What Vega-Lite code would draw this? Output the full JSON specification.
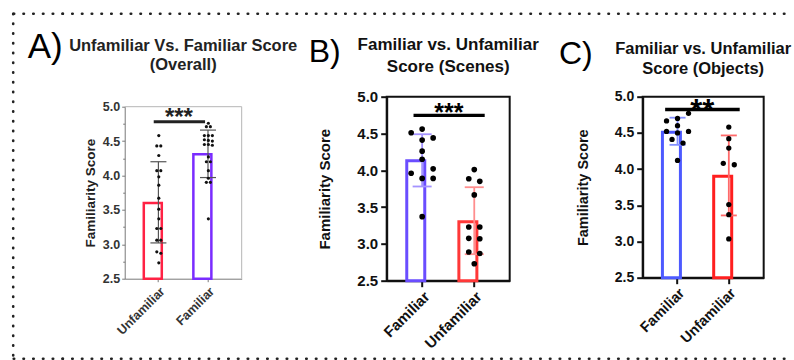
{
  "$schema": "https://vega.github.io/schema/vega-lite/v6.json",
  "padding": {"left": 11.7, "top": 11.7, "right": 0, "bottom": 0},
  "config": {
    "font": "Liberation Sans",
    "view": {"stroke": null},
    "title": {"fontWeight": "bold", "anchor": "middle", "frame": "group", "color": "#111", "font": "Liberation Sans"},
    "axis": {"labelFont": "Liberation Sans", "titleFont": "Liberation Sans", "grid": false}
  },
  "resolve": {"scale": {"x": "independent", "y": "independent", "stroke": "independent", "color": "independent", "xOffset": "independent"}},
  "datasets": {
    "pts": [
      {"p":"A","g":"Unfamiliar","s":4.58,"j":0},
      {"p":"A","g":"Unfamiliar","s":4.43,"j":-1},
      {"p":"A","g":"Unfamiliar","s":4.43,"j":1},
      {"p":"A","g":"Unfamiliar","s":4.29,"j":0},
      {"p":"A","g":"Unfamiliar","s":4.07,"j":-1},
      {"p":"A","g":"Unfamiliar","s":4.07,"j":1},
      {"p":"A","g":"Unfamiliar","s":3.98,"j":0},
      {"p":"A","g":"Unfamiliar","s":3.86,"j":0},
      {"p":"A","g":"Unfamiliar","s":3.67,"j":0},
      {"p":"A","g":"Unfamiliar","s":3.51,"j":0},
      {"p":"A","g":"Unfamiliar","s":3.37,"j":0},
      {"p":"A","g":"Unfamiliar","s":3.23,"j":-1},
      {"p":"A","g":"Unfamiliar","s":3.23,"j":1},
      {"p":"A","g":"Unfamiliar","s":3.06,"j":-1},
      {"p":"A","g":"Unfamiliar","s":3.06,"j":1},
      {"p":"A","g":"Unfamiliar","s":2.89,"j":-1},
      {"p":"A","g":"Unfamiliar","s":2.87,"j":1},
      {"p":"A","g":"Unfamiliar","s":2.73,"j":0},
      {"p":"A","g":"Familiar","s":4.76,"j":0},
      {"p":"A","g":"Familiar","s":4.71,"j":-1},
      {"p":"A","g":"Familiar","s":4.71,"j":1},
      {"p":"A","g":"Familiar","s":4.58,"j":-2},
      {"p":"A","g":"Familiar","s":4.58,"j":0},
      {"p":"A","g":"Familiar","s":4.58,"j":2},
      {"p":"A","g":"Familiar","s":4.52,"j":-2},
      {"p":"A","g":"Familiar","s":4.51,"j":0},
      {"p":"A","g":"Familiar","s":4.5,"j":2},
      {"p":"A","g":"Familiar","s":4.45,"j":-2},
      {"p":"A","g":"Familiar","s":4.45,"j":0},
      {"p":"A","g":"Familiar","s":4.44,"j":2},
      {"p":"A","g":"Familiar","s":4.27,"j":0},
      {"p":"A","g":"Familiar","s":4.2,"j":-1},
      {"p":"A","g":"Familiar","s":4.2,"j":1},
      {"p":"A","g":"Familiar","s":4.07,"j":0},
      {"p":"A","g":"Familiar","s":3.96,"j":0},
      {"p":"A","g":"Familiar","s":3.9,"j":-1},
      {"p":"A","g":"Familiar","s":3.9,"j":1},
      {"p":"A","g":"Familiar","s":3.37,"j":0},
      {"p":"B","g":"Familiar","s":4.56,"j":0},
      {"p":"B","g":"Familiar","s":4.51,"j":-2},
      {"p":"B","g":"Familiar","s":4.44,"j":2},
      {"p":"B","g":"Familiar","s":4.41,"j":0},
      {"p":"B","g":"Familiar","s":4.26,"j":0},
      {"p":"B","g":"Familiar","s":4.15,"j":0},
      {"p":"B","g":"Familiar","s":4.02,"j":2},
      {"p":"B","g":"Familiar","s":3.96,"j":-2},
      {"p":"B","g":"Familiar","s":3.89,"j":0},
      {"p":"B","g":"Familiar","s":3.89,"j":2},
      {"p":"B","g":"Familiar","s":3.37,"j":0},
      {"p":"B","g":"Unfamiliar","s":4.01,"j":0},
      {"p":"B","g":"Unfamiliar","s":3.885,"j":-1},
      {"p":"B","g":"Unfamiliar","s":3.85,"j":1},
      {"p":"B","g":"Unfamiliar","s":3.665,"j":0},
      {"p":"B","g":"Unfamiliar","s":3.23,"j":-1},
      {"p":"B","g":"Unfamiliar","s":3.23,"j":1},
      {"p":"B","g":"Unfamiliar","s":3.075,"j":-1},
      {"p":"B","g":"Unfamiliar","s":3.07,"j":1},
      {"p":"B","g":"Unfamiliar","s":2.89,"j":-1},
      {"p":"B","g":"Unfamiliar","s":2.87,"j":1},
      {"p":"B","g":"Unfamiliar","s":2.73,"j":0},
      {"p":"C","g":"Familiar","s":4.77,"j":2},
      {"p":"C","g":"Familiar","s":4.7,"j":0},
      {"p":"C","g":"Familiar","s":4.665,"j":-2},
      {"p":"C","g":"Familiar","s":4.6,"j":0},
      {"p":"C","g":"Familiar","s":4.52,"j":-2},
      {"p":"C","g":"Familiar","s":4.5,"j":0},
      {"p":"C","g":"Familiar","s":4.52,"j":2},
      {"p":"C","g":"Familiar","s":4.41,"j":-1},
      {"p":"C","g":"Familiar","s":4.36,"j":1},
      {"p":"C","g":"Familiar","s":4.12,"j":0},
      {"p":"C","g":"Unfamiliar","s":4.58,"j":0},
      {"p":"C","g":"Unfamiliar","s":4.42,"j":0},
      {"p":"C","g":"Unfamiliar","s":4.29,"j":0},
      {"p":"C","g":"Unfamiliar","s":4.08,"j":-1},
      {"p":"C","g":"Unfamiliar","s":4.06,"j":1},
      {"p":"C","g":"Unfamiliar","s":3.51,"j":0},
      {"p":"C","g":"Unfamiliar","s":3.37,"j":0},
      {"p":"C","g":"Unfamiliar","s":3.035,"j":0}
    ],
    "bars": [
      {"p":"A","g":"Unfamiliar","mean":3.6,"lo":3.02,"hi":4.2},
      {"p":"A","g":"Familiar","mean":4.31,"lo":3.97,"hi":4.66},
      {"p":"B","g":"Familiar","mean":4.13,"lo":3.78,"hi":4.49},
      {"p":"B","g":"Unfamiliar","mean":3.3,"lo":2.86,"hi":3.77},
      {"p":"C","g":"Familiar","mean":4.51,"lo":4.335,"hi":4.71},
      {"p":"C","g":"Unfamiliar","mean":3.9,"lo":3.36,"hi":4.465}
    ],
    "sig": [
      {"p":"A","a":"Unfamiliar","b":"Familiar","ly":4.78,"ty":4.73,"label":"***"},
      {"p":"B","a":"Familiar","b":"Unfamiliar","ly":4.746,"ty":4.674,"label":"***"},
      {"p":"C","a":"Familiar","b":"Unfamiliar","ly":4.823,"ty":4.659,"label":"**"}
    ],
    "one": [{"k": 1}]
  },
  "columns": 11,
  "spacing": 0,
  "bounds": "flush",
  "align": "each",
  "concat": [
    {"width": 1, "height": 83, "data": {"name": "one"},
     "mark": {"type": "rule", "strokeDash": [0.5, 9.25], "strokeDashOffset": 0, "strokeCap": "round", "strokeWidth": 2.6, "color": "#222"},
     "encoding": {"y": {"datum": 1, "type": "quantitative", "scale": {"domain": [0, 1]}, "axis": null}, "y2": {"datum": 0}}},
    {"width": 49, "height": 83, "data": {"name": "one"},
     "mark": {"type": "rule", "strokeDash": [0.5, 9.25], "strokeDashOffset": 0, "strokeCap": "round", "strokeWidth": 2.6, "color": "#222"},
     "encoding": {"x": {"datum": 0, "type": "quantitative", "scale": {"domain": [0, 1]}, "axis": null}, "x2": {"datum": 1}, "y": {"datum": 1, "type": "quantitative", "scale": {"domain": [0, 1]}, "axis": null}}},
    {"width": 62, "height": 83, "data": {"name": "one"},
     "mark": {"type": "rule", "strokeDash": [0.5, 9.25], "strokeDashOffset": 0.25, "strokeCap": "round", "strokeWidth": 2.6, "color": "#222"},
     "encoding": {"x": {"datum": 0, "type": "quantitative", "scale": {"domain": [0, 1]}, "axis": null}, "x2": {"datum": 1}, "y": {"datum": 1, "type": "quantitative", "scale": {"domain": [0, 1]}, "axis": null}}},
    {"width": 117, "height": 83, "data": {"name": "one"},
     "mark": {"type": "rule", "strokeDash": [0.5, 9.25], "strokeDashOffset": 3.75, "strokeCap": "round", "strokeWidth": 2.6, "color": "#222"},
     "encoding": {"x": {"datum": 0, "type": "quantitative", "scale": {"domain": [0, 1]}, "axis": null}, "x2": {"datum": 1}, "y": {"datum": 1, "type": "quantitative", "scale": {"domain": [0, 1]}, "axis": null}}},
    {"width": 99, "height": 83, "data": {"name": "one"},
     "mark": {"type": "rule", "strokeDash": [0.5, 9.25], "strokeDashOffset": 3.75, "strokeCap": "round", "strokeWidth": 2.6, "color": "#222"},
     "encoding": {"x": {"datum": 0, "type": "quantitative", "scale": {"domain": [0, 1]}, "axis": null}, "x2": {"datum": 1}, "y": {"datum": 1, "type": "quantitative", "scale": {"domain": [0, 1]}, "axis": null}}},
    {"width": 46, "height": 83, "data": {"name": "one"},
     "mark": {"type": "rule", "strokeDash": [0.5, 9.25], "strokeDashOffset": 5.25, "strokeCap": "round", "strokeWidth": 2.6, "color": "#222"},
     "encoding": {"x": {"datum": 0, "type": "quantitative", "scale": {"domain": [0, 1]}, "axis": null}, "x2": {"datum": 1}, "y": {"datum": 1, "type": "quantitative", "scale": {"domain": [0, 1]}, "axis": null}}},
    {"width": 123, "height": 83, "data": {"name": "one"},
     "mark": {"type": "rule", "strokeDash": [0.5, 9.25], "strokeDashOffset": 2.5, "strokeCap": "round", "strokeWidth": 2.6, "color": "#222"},
     "encoding": {"x": {"datum": 0, "type": "quantitative", "scale": {"domain": [0, 1]}, "axis": null}, "x2": {"datum": 1}, "y": {"datum": 1, "type": "quantitative", "scale": {"domain": [0, 1]}, "axis": null}}},
    {"width": 83, "height": 83, "data": {"name": "one"},
     "mark": {"type": "rule", "strokeDash": [0.5, 9.25], "strokeDashOffset": 8.5, "strokeCap": "round", "strokeWidth": 2.6, "color": "#222"},
     "encoding": {"x": {"datum": 0, "type": "quantitative", "scale": {"domain": [0, 1]}, "axis": null}, "x2": {"datum": 1}, "y": {"datum": 1, "type": "quantitative", "scale": {"domain": [0, 1]}, "axis": null}}},
    {"width": 50, "height": 83, "data": {"name": "one"},
     "mark": {"type": "rule", "strokeDash": [0.5, 9.25], "strokeDashOffset": 3.75, "strokeCap": "round", "strokeWidth": 2.6, "color": "#222"},
     "encoding": {"x": {"datum": 0, "type": "quantitative", "scale": {"domain": [0, 1]}, "axis": null}, "x2": {"datum": 1}, "y": {"datum": 1, "type": "quantitative", "scale": {"domain": [0, 1]}, "axis": null}}},
    {"width": 121, "height": 83, "data": {"name": "one"},
     "mark": {"type": "rule", "strokeDash": [0.5, 9.25], "strokeDashOffset": 5.75, "strokeCap": "round", "strokeWidth": 2.6, "color": "#222"},
     "encoding": {"x": {"datum": 0, "type": "quantitative", "scale": {"domain": [0, 1]}, "axis": null}, "x2": {"datum": 1}, "y": {"datum": 1, "type": "quantitative", "scale": {"domain": [0, 1]}, "axis": null}}},
    {"width": 27, "height": 83, "data": {"name": "one"},
     "mark": {"type": "rule", "strokeDash": [0.5, 9.25], "strokeDashOffset": 9.0, "strokeCap": "round", "strokeWidth": 2.6, "color": "#222"},
     "encoding": {"x": {"datum": 0, "type": "quantitative", "scale": {"domain": [0, 1]}, "axis": null}, "x2": {"datum": 1}, "y": {"datum": 1, "type": "quantitative", "scale": {"domain": [0, 1]}, "axis": null}}},

    {"width": 1, "height": 184, "data": {"name": "one"},
     "mark": {"type": "rule", "strokeDash": [0.5, 9.25], "strokeDashOffset": 5, "strokeCap": "round", "strokeWidth": 2.6, "color": "#222"},
     "encoding": {"y": {"datum": 1, "type": "quantitative", "scale": {"domain": [0, 1]}, "axis": null}, "y2": {"datum": 0}}},
    {"width": 49, "height": 1, "data": {"values": []}, "mark": "point",
     "title": {"text": "A)", "fontSize": 35, "fontWeight": "normal", "anchor": "end", "offset": 32, "color": "#000"}},
    {"width": 1, "height": 1, "data": {"values": []}, "mark": "point"},
    {
      "width": 117, "height": 182,
      "title": {"text": ["Unfamiliar Vs. Familiar Score", "(Overall)"], "fontSize": 16.5, "lineHeight": 19.5, "offset": 23, "color": "#222"},
      "layer": [
        {
          "data": {"name": "bars"}, "transform": [{"filter": "datum.p === 'A'"}],
          "mark": {"type": "bar", "fill": "#ffffff", "strokeWidth": 2.5},
          "encoding": {
            "x": {"field": "g", "type": "nominal", "scale": {"domain": ["Unfamiliar", "Familiar"], "paddingInner": 0.41, "paddingOuter": 0.385},
              "axis": {"title": null, "labelAngle": -45, "labelFontSize": 12.5, "labelFontWeight": "bold", "labelColor": "#333", "tickColor": "#777", "domainColor": "#777", "tickSize": 3, "labelPadding": 3}},
            "y": {"field": "mean", "type": "quantitative", "scale": {"domain": [2.5, 5], "zero": false, "nice": false, "range": [182, 10]},
              "axis": {"title": "Familiarity Score", "values": [2.5, 2.75, 3, 3.25, 3.5, 3.75, 4, 4.25, 4.5, 4.75, 5], "tickCount": 30,
                "labelExpr": "datum.value % 0.5 === 0 ? format(datum.value, '.1f') : ''",
                "labelFontSize": 12.5, "labelFontWeight": "bold", "labelColor": "#333", "labelPadding": 2, "labelOverlap": false,
                "tickSize": {"condition": {"test": "datum.value % 0.5 !== 0", "value": 2}, "value": 3},
                "tickColor": "#777", "domainColor": "#777",
                "titleFontSize": 13.5, "titleFontWeight": "bold", "titleColor": "#222", "titlePadding": 5}},
            "y2": {"datum": 2.5},
            "stroke": {"field": "g", "type": "nominal", "scale": {"domain": ["Unfamiliar", "Familiar"], "range": ["#ff2244", "#7a2cff"]}, "legend": null}
          }
        },
        {
          "data": {"name": "one"},
          "mark": {"type": "rule", "color": "#b5b5b5", "strokeWidth": 1},
          "encoding": {"y": {"datum": 5, "type": "quantitative"}}
        },
        {
          "data": {"name": "one"},
          "mark": {"type": "rule", "color": "#b5b5b5", "strokeWidth": 1},
          "encoding": {"x": {"datum": "Familiar", "type": "nominal", "bandPosition": 1.652}, "y": {"datum": 5, "type": "quantitative"}, "y2": {"datum": 2.5}}
        },
        {
          "data": {"name": "bars"}, "transform": [{"filter": "datum.p === 'A'"}],
          "mark": {"type": "rule", "color": "#555", "strokeWidth": 1.2},
          "encoding": {"x": {"field": "g", "type": "nominal"}, "y": {"field": "lo", "type": "quantitative"}, "y2": {"field": "hi"}}
        },
        {
          "data": {"name": "bars"}, "transform": [{"filter": "datum.p === 'A'"}],
          "mark": {"type": "tick", "color": "#555", "thickness": 1.2, "size": 16, "opacity": 1},
          "encoding": {"x": {"field": "g", "type": "nominal"}, "y": {"field": "lo", "type": "quantitative"}}
        },
        {
          "data": {"name": "bars"}, "transform": [{"filter": "datum.p === 'A'"}],
          "mark": {"type": "tick", "color": "#555", "thickness": 1.2, "size": 16, "opacity": 1},
          "encoding": {"x": {"field": "g", "type": "nominal"}, "y": {"field": "hi", "type": "quantitative"}}
        },
        {
          "data": {"name": "pts"}, "transform": [{"filter": "datum.p === 'A'"}],
          "mark": {"type": "circle", "size": 10, "color": "#111", "opacity": 1},
          "encoding": {
            "x": {"field": "g", "type": "nominal"},
            "xOffset": {"field": "j", "type": "quantitative", "scale": {"domain": [-2, 2], "range": [11, 19]}},
            "y": {"field": "s", "type": "quantitative"}
          }
        },
        {
          "data": {"name": "sig"}, "transform": [{"filter": "datum.p === 'A'"}],
          "mark": {"type": "rule", "color": "#222", "strokeWidth": 3},
          "encoding": {
            "x": {"field": "a", "type": "nominal", "bandPosition": 0.34},
            "x2": {"field": "b", "bandPosition": 0.4},
            "y": {"field": "ly", "type": "quantitative"}
          }
        },
        {
          "data": {"name": "sig"}, "transform": [{"filter": "datum.p === 'A'"}],
          "mark": {"type": "text", "fontSize": 24, "fontWeight": "bold", "color": "#222", "baseline": "alphabetic", "align": "center"},
          "encoding": {
            "x": {"field": "a", "type": "nominal", "bandPosition": 1.2},
            "y": {"field": "ty", "type": "quantitative"},
            "text": {"field": "label"}
          }
        }
      ]
    },
    {"width": 99, "height": 1, "data": {"values": []}, "mark": "point",
     "title": {"text": "B)", "fontSize": 32, "fontWeight": "normal", "anchor": "end", "offset": 28, "color": "#000"}},
    {"width": 1, "height": 1, "data": {"values": []}, "mark": "point"},
    {
      "width": 123, "height": 184,
      "view": {"stroke": "#111", "strokeWidth": 2},
      "title": {"text": ["Familiar vs. Unfamiliar", "Score (Scenes)"], "fontSize": 17, "lineHeight": 21.5, "offset": 14},
      "layer": [
        {
          "data": {"name": "bars"}, "transform": [{"filter": "datum.p === 'B'"}],
          "mark": {"type": "bar", "fill": "#ffffff", "strokeWidth": 3},
          "encoding": {
            "x": {"field": "g", "type": "nominal", "scale": {"domain": ["Familiar", "Unfamiliar"], "paddingInner": 0.41, "paddingOuter": 0.385},
              "axis": {"title": null, "labelAngle": -45, "labelFontSize": 15, "labelFontWeight": "bold", "labelColor": "#111", "tickColor": "#111", "tickWidth": 2, "domainColor": "#111", "domainWidth": 2, "tickSize": 6, "labelPadding": 2}},
            "y": {"field": "mean", "type": "quantitative", "scale": {"domain": [2.5, 5], "zero": false, "nice": false},
              "axis": {"title": "Familiarity Score", "values": [2.5, 3, 3.5, 4, 4.5, 5], "tickCount": 30, "format": ".1f",
                "labelFontSize": 15, "labelFontWeight": "bold", "labelColor": "#111", "labelPadding": 3, "labelOverlap": false,
                "tickSize": 6, "tickWidth": 2, "tickColor": "#111", "domainColor": "#111", "domainWidth": 2,
                "titleFontSize": 15, "titleFontWeight": "bold", "titleColor": "#111", "titlePadding": 24}},
            "y2": {"datum": 2.5},
            "stroke": {"field": "g", "type": "nominal", "scale": {"domain": ["Familiar", "Unfamiliar"], "range": ["#6a4dff", "#ff3838"]}, "legend": null}
          }
        },
        {
          "data": {"name": "bars"}, "transform": [{"filter": "datum.p === 'B'"}],
          "mark": {"type": "rule", "strokeWidth": 1.8},
          "encoding": {"x": {"field": "g", "type": "nominal"}, "y": {"field": "lo", "type": "quantitative"}, "y2": {"field": "hi"},
            "color": {"field": "g", "type": "nominal", "scale": {"domain": ["Familiar", "Unfamiliar"], "range": ["#a493ff", "#ff8e8e"]}, "legend": null}}
        },
        {
          "data": {"name": "bars"}, "transform": [{"filter": "datum.p === 'B'"}],
          "mark": {"type": "tick", "thickness": 1.8, "size": 19, "opacity": 1},
          "encoding": {"x": {"field": "g", "type": "nominal"}, "y": {"field": "lo", "type": "quantitative"},
            "color": {"field": "g", "type": "nominal", "legend": null}}
        },
        {
          "data": {"name": "bars"}, "transform": [{"filter": "datum.p === 'B'"}],
          "mark": {"type": "tick", "thickness": 1.8, "size": 19, "opacity": 1},
          "encoding": {"x": {"field": "g", "type": "nominal"}, "y": {"field": "hi", "type": "quantitative"},
            "color": {"field": "g", "type": "nominal", "legend": null}}
        },
        {
          "data": {"name": "pts"}, "transform": [{"filter": "datum.p === 'B'"}],
          "mark": {"type": "circle", "size": 32, "color": "#000", "opacity": 1},
          "encoding": {
            "x": {"field": "g", "type": "nominal"},
            "xOffset": {"field": "j", "type": "quantitative", "scale": {"domain": [-2, 2], "range": [4.4, 26.4]}},
            "y": {"field": "s", "type": "quantitative"}
          }
        },
        {
          "data": {"name": "sig"}, "transform": [{"filter": "datum.p === 'B'"}],
          "mark": {"type": "rule", "color": "#000", "strokeWidth": 3.3},
          "encoding": {
            "x": {"field": "a", "type": "nominal", "bandPosition": 0.22},
            "x2": {"field": "b", "bandPosition": 0.84},
            "y": {"field": "ly", "type": "quantitative"}
          }
        },
        {
          "data": {"name": "sig"}, "transform": [{"filter": "datum.p === 'B'"}],
          "mark": {"type": "text", "fontSize": 25, "fontWeight": "bold", "color": "#000", "baseline": "alphabetic", "align": "center"},
          "encoding": {
            "x": {"field": "a", "type": "nominal", "bandPosition": 1.37},
            "y": {"field": "ty", "type": "quantitative"},
            "text": {"field": "label"}
          }
        }
      ]
    },
    {"width": 83, "height": 1, "data": {"values": []}, "mark": "point",
     "title": {"text": "C)", "fontSize": 32, "fontWeight": "normal", "anchor": "end", "offset": 26, "color": "#000"}},
    {"width": 1, "height": 1, "data": {"values": []}, "mark": "point"},
    {
      "width": 121, "height": 181,
      "view": {"stroke": "#111", "strokeWidth": 2},
      "title": {"text": ["Familiar vs. Unfamiliar", "Score (Objects)"], "fontSize": 16.5, "lineHeight": 20.5, "offset": 12},
      "layer": [
        {
          "data": {"name": "bars"}, "transform": [{"filter": "datum.p === 'C'"}],
          "mark": {"type": "bar", "fill": "#ffffff", "strokeWidth": 3},
          "encoding": {
            "x": {"field": "g", "type": "nominal", "scale": {"domain": ["Familiar", "Unfamiliar"], "paddingInner": 0.41, "paddingOuter": 0.385},
              "axis": {"title": null, "labelAngle": -45, "labelFontSize": 14.5, "labelFontWeight": "bold", "labelColor": "#111", "tickColor": "#111", "tickWidth": 2, "domainColor": "#111", "domainWidth": 2, "tickSize": 6, "labelPadding": 2}},
            "y": {"field": "mean", "type": "quantitative", "scale": {"domain": [2.5, 5], "zero": false, "nice": false},
              "axis": {"title": "Familiarity Score", "values": [2.5, 3, 3.5, 4, 4.5, 5], "tickCount": 30, "format": ".1f",
                "labelFontSize": 14, "labelFontWeight": "bold", "labelColor": "#111", "labelPadding": 3, "labelOverlap": false,
                "tickSize": 6, "tickWidth": 2, "tickColor": "#111", "domainColor": "#111", "domainWidth": 2,
                "titleFontSize": 14.5, "titleFontWeight": "bold", "titleColor": "#111", "titlePadding": 24}},
            "y2": {"datum": 2.5},
            "stroke": {"field": "g", "type": "nominal", "scale": {"domain": ["Familiar", "Unfamiliar"], "range": ["#4d5aff", "#ff1f1f"]}, "legend": null}
          }
        },
        {
          "data": {"name": "bars"}, "transform": [{"filter": "datum.p === 'C'"}],
          "mark": {"type": "rule", "strokeWidth": 1.8},
          "encoding": {"x": {"field": "g", "type": "nominal"}, "y": {"field": "lo", "type": "quantitative"}, "y2": {"field": "hi"},
            "color": {"field": "g", "type": "nominal", "scale": {"domain": ["Familiar", "Unfamiliar"], "range": ["#8390ff", "#ff6a6a"]}, "legend": null}}
        },
        {
          "data": {"name": "bars"}, "transform": [{"filter": "datum.p === 'C'"}],
          "mark": {"type": "tick", "thickness": 1.8, "size": 16, "opacity": 1},
          "encoding": {"x": {"field": "g", "type": "nominal"}, "y": {"field": "lo", "type": "quantitative"},
            "color": {"field": "g", "type": "nominal", "legend": null}}
        },
        {
          "data": {"name": "bars"}, "transform": [{"filter": "datum.p === 'C'"}],
          "mark": {"type": "tick", "thickness": 1.8, "size": 16, "opacity": 1},
          "encoding": {"x": {"field": "g", "type": "nominal"}, "y": {"field": "hi", "type": "quantitative"},
            "color": {"field": "g", "type": "nominal", "legend": null}}
        },
        {
          "data": {"name": "pts"}, "transform": [{"filter": "datum.p === 'C'"}],
          "mark": {"type": "circle", "size": 28, "color": "#000", "opacity": 1},
          "encoding": {
            "x": {"field": "g", "type": "nominal"},
            "xOffset": {"field": "j", "type": "quantitative", "scale": {"domain": [-2, 2], "range": [4.1, 26.1]}},
            "y": {"field": "s", "type": "quantitative"}
          }
        },
        {
          "data": {"name": "sig"}, "transform": [{"filter": "datum.p === 'C'"}],
          "mark": {"type": "rule", "color": "#000", "strokeWidth": 3.3},
          "encoding": {
            "x": {"field": "a", "type": "nominal", "bandPosition": 0.09},
            "x2": {"field": "b", "bandPosition": 0.86},
            "y": {"field": "ly", "type": "quantitative"}
          }
        },
        {
          "data": {"name": "sig"}, "transform": [{"filter": "datum.p === 'C'"}],
          "mark": {"type": "text", "fontSize": 31, "fontWeight": "bold", "color": "#000", "baseline": "alphabetic", "align": "center"},
          "encoding": {
            "x": {"field": "a", "type": "nominal", "bandPosition": 1.32},
            "y": {"field": "ty", "type": "quantitative"},
            "text": {"field": "label"}
          }
        }
      ]
    },
    {"width": 1, "height": 1, "data": {"values": []}, "mark": "point"},

    {"width": 1, "height": 78, "data": {"name": "one"},
     "mark": {"type": "rule", "strokeDash": [0.5, 9.25], "strokeDashOffset": 3.75, "strokeCap": "round", "strokeWidth": 2.6, "color": "#222"},
     "encoding": {"y": {"datum": 1, "type": "quantitative", "scale": {"domain": [0, 1]}, "axis": null}, "y2": {"datum": 0}}},
    {"width": 49, "height": 78, "data": {"name": "one"},
     "mark": {"type": "rule", "strokeDash": [0.5, 9.25], "strokeDashOffset": 0, "strokeCap": "round", "strokeWidth": 2.6, "color": "#222"},
     "encoding": {"x": {"datum": 0, "type": "quantitative", "scale": {"domain": [0, 1]}, "axis": null}, "x2": {"datum": 1}, "y": {"datum": 0, "type": "quantitative", "scale": {"domain": [0, 1]}, "axis": null}}},
    {"width": 62, "height": 78, "data": {"name": "one"},
     "mark": {"type": "rule", "strokeDash": [0.5, 9.25], "strokeDashOffset": 0.25, "strokeCap": "round", "strokeWidth": 2.6, "color": "#222"},
     "encoding": {"x": {"datum": 0, "type": "quantitative", "scale": {"domain": [0, 1]}, "axis": null}, "x2": {"datum": 1}, "y": {"datum": 0, "type": "quantitative", "scale": {"domain": [0, 1]}, "axis": null}}},
    {"width": 117, "height": 78, "data": {"name": "one"},
     "mark": {"type": "rule", "strokeDash": [0.5, 9.25], "strokeDashOffset": 3.75, "strokeCap": "round", "strokeWidth": 2.6, "color": "#222"},
     "encoding": {"x": {"datum": 0, "type": "quantitative", "scale": {"domain": [0, 1]}, "axis": null}, "x2": {"datum": 1}, "y": {"datum": 0, "type": "quantitative", "scale": {"domain": [0, 1]}, "axis": null}}},
    {"width": 99, "height": 78, "data": {"name": "one"},
     "mark": {"type": "rule", "strokeDash": [0.5, 9.25], "strokeDashOffset": 3.75, "strokeCap": "round", "strokeWidth": 2.6, "color": "#222"},
     "encoding": {"x": {"datum": 0, "type": "quantitative", "scale": {"domain": [0, 1]}, "axis": null}, "x2": {"datum": 1}, "y": {"datum": 0, "type": "quantitative", "scale": {"domain": [0, 1]}, "axis": null}}},
    {"width": 46, "height": 78, "data": {"name": "one"},
     "mark": {"type": "rule", "strokeDash": [0.5, 9.25], "strokeDashOffset": 5.25, "strokeCap": "round", "strokeWidth": 2.6, "color": "#222"},
     "encoding": {"x": {"datum": 0, "type": "quantitative", "scale": {"domain": [0, 1]}, "axis": null}, "x2": {"datum": 1}, "y": {"datum": 0, "type": "quantitative", "scale": {"domain": [0, 1]}, "axis": null}}},
    {"width": 123, "height": 78, "data": {"name": "one"},
     "mark": {"type": "rule", "strokeDash": [0.5, 9.25], "strokeDashOffset": 2.5, "strokeCap": "round", "strokeWidth": 2.6, "color": "#222"},
     "encoding": {"x": {"datum": 0, "type": "quantitative", "scale": {"domain": [0, 1]}, "axis": null}, "x2": {"datum": 1}, "y": {"datum": 0, "type": "quantitative", "scale": {"domain": [0, 1]}, "axis": null}}},
    {"width": 83, "height": 78, "data": {"name": "one"},
     "mark": {"type": "rule", "strokeDash": [0.5, 9.25], "strokeDashOffset": 8.5, "strokeCap": "round", "strokeWidth": 2.6, "color": "#222"},
     "encoding": {"x": {"datum": 0, "type": "quantitative", "scale": {"domain": [0, 1]}, "axis": null}, "x2": {"datum": 1}, "y": {"datum": 0, "type": "quantitative", "scale": {"domain": [0, 1]}, "axis": null}}},
    {"width": 50, "height": 78, "data": {"name": "one"},
     "mark": {"type": "rule", "strokeDash": [0.5, 9.25], "strokeDashOffset": 3.75, "strokeCap": "round", "strokeWidth": 2.6, "color": "#222"},
     "encoding": {"x": {"datum": 0, "type": "quantitative", "scale": {"domain": [0, 1]}, "axis": null}, "x2": {"datum": 1}, "y": {"datum": 0, "type": "quantitative", "scale": {"domain": [0, 1]}, "axis": null}}},
    {"width": 121, "height": 78, "data": {"name": "one"},
     "mark": {"type": "rule", "strokeDash": [0.5, 9.25], "strokeDashOffset": 5.75, "strokeCap": "round", "strokeWidth": 2.6, "color": "#222"},
     "encoding": {"x": {"datum": 0, "type": "quantitative", "scale": {"domain": [0, 1]}, "axis": null}, "x2": {"datum": 1}, "y": {"datum": 0, "type": "quantitative", "scale": {"domain": [0, 1]}, "axis": null}}},
    {"width": 27, "height": 78, "data": {"name": "one"},
     "mark": {"type": "rule", "strokeDash": [0.5, 9.25], "strokeDashOffset": 9.0, "strokeCap": "round", "strokeWidth": 2.6, "color": "#222"},
     "encoding": {"x": {"datum": 0, "type": "quantitative", "scale": {"domain": [0, 1]}, "axis": null}, "x2": {"datum": 1}, "y": {"datum": 0, "type": "quantitative", "scale": {"domain": [0, 1]}, "axis": null}}}
  ]
}
